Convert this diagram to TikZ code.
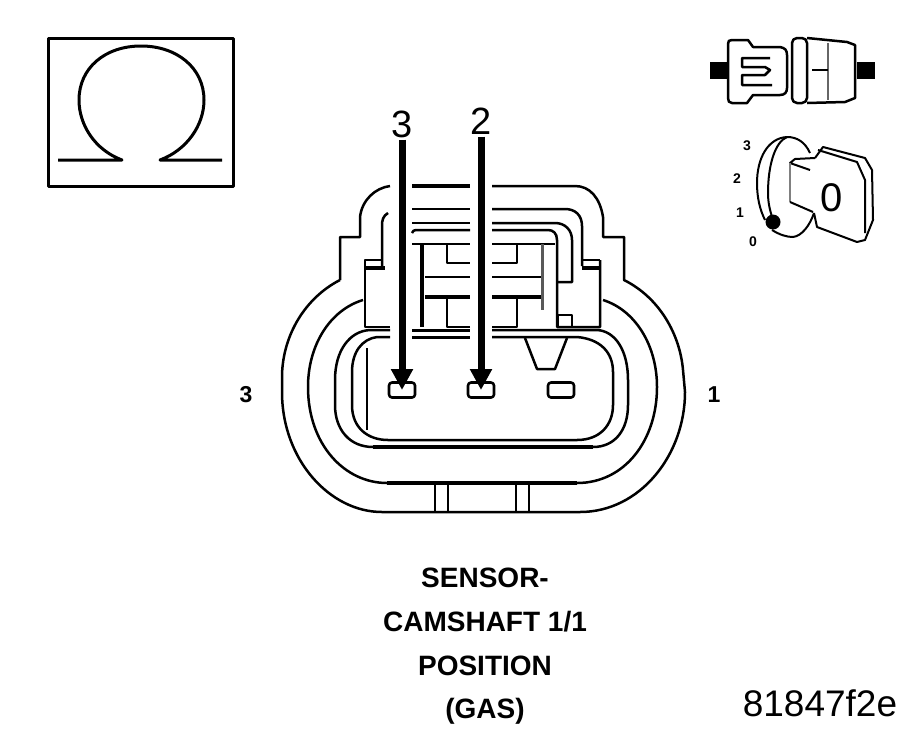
\documentclass[tikz,border=0pt]{standalone}
\usepackage{fontspec}
\setmainfont{Liberation Sans}
\usetikzlibrary{arrows.meta}

\tikzstyle{caption} = [font=\fontsize{28}{28}\selectfont\bfseries, inner sep=0pt]
\tikzstyle{sidelabel} = [font=\fontsize{23}{23}\selectfont\bfseries, inner sep=0pt]
\tikzstyle{pinlabel} = [font=\fontsize{38}{38}\selectfont, inner sep=1pt]
\tikzstyle{keylabel} = [font=\fontsize{14}{14}\selectfont\bfseries, inner sep=0pt]
\tikzstyle{pinbox} = [rectangle, draw, line width=2.6pt, rounded corners=3pt, minimum width=26pt, minimum height=15pt, inner sep=0pt]
\tikzstyle{probe} = [line width=7pt, -{Triangle[width=21pt,length=21pt]}]
\tikzstyle{shell} = [line width=2.5pt, line join=round]
\tikzstyle{thick rib} = [line width=3.5pt]
\tikzstyle{plug} = [fill=black]

\begin{document}
\begin{tikzpicture}[x=1pt, y=-1pt, shell]

\useasboundingbox (0,0) rectangle (917,734);

\node [draw, line width=3pt, minimum width=185pt, minimum height=148pt, inner sep=0pt] (ohm) at (140.5,112) {};

\draw [line width=3pt] (58,160) -- (122,160) .. controls (95,150) and (79,125) .. (79,100) .. controls (79,68) and (105,46) .. (141,46) .. controls (177,46) and (204,68) .. (204,100) .. controls (204,125) and (187,150) .. (160,160) -- (222,160);

\draw (340,280) .. controls (305,298) and (283,335) .. (282,375) -- (282,392) .. controls (282,460) and (330,512) .. (382,512) -- (580,512) .. controls (640,512) and (685,455) .. (685,392) -- (683,370) .. controls (680,335) and (660,298) .. (624,280) -- (624,237) -- (603,237) -- (603,217) .. controls (600,198) and (590,186) .. (575,186) -- (492,186);

\draw (340,280) -- (340,237) -- (360,237) -- (360,217) .. controls (362,200) and (375,188) .. (390,186);

\draw [thick rib] (412,186) -- (470,186);

\draw (363,300) .. controls (330,310) and (308,345) .. (308,387) .. controls (308,445) and (345,483) .. (387,483);

\draw [thick rib] (387,483) -- (577,483);

\draw (577,483) .. controls (625,483) and (657,440) .. (657,387) .. controls (657,345) and (635,310) .. (603,300);

\draw (390,330) -- (370,330) .. controls (350,331) and (335,350) .. (335,380) -- (335,405) .. controls (335,430) and (350,447) .. (373,447);

\draw [thick rib] (373,447) -- (593,447);

\draw (593,447) .. controls (615,447) and (628,430) .. (628,405) -- (628,380) .. controls (628,350) and (615,331) .. (597,330) -- (492,330);

\draw (390,337) -- (377,337) .. controls (362,339) and (352,352) .. (352,372) -- (352,405) .. controls (352,428) and (368,440) .. (388,440) -- (577,440) .. controls (600,440) and (613,425) .. (613,405) -- (613,372) .. controls (613,352) and (600,339) .. (577,337) -- (492,337);

\draw [line width=3pt] (412,330) -- (470,330);

\draw [line width=3pt] (412,337) -- (470,337);

\draw (367,348) -- (367,430);

\draw (390,327) -- (365,327) -- (365,260) -- (382,260);

\draw (600,260) -- (600,327) -- (557,327) -- (557,240) .. controls (557,233) and (553,230) .. (548,230) -- (492,230);

\draw (388,213) .. controls (383,216) and (382,220) .. (382,226) -- (382,266);

\draw [thick rib] (365,268) -- (385,268);

\draw (492,209) -- (565,209) .. controls (575,209) and (582,215) .. (582,226) -- (582,266);

\draw (582,260) -- (600,260);

\draw [thick rib] (582,268) -- (600,268);

\draw (412,209) -- (470,209);

\draw (412,223) -- (470,223);

\draw (492,223) -- (555,223) .. controls (565,223) and (572,230) .. (572,240) -- (572,282) -- (557,282);

\draw (412,233) .. controls (412,231) and (414,230) .. (418,230) -- (470,230);

\draw (412,244) -- (470,244);

\draw (492,244) -- (555,244);

\draw [thick rib] (422,244) -- (422,327);

\draw (447,244) -- (447,263) -- (470,263);

\draw (517,244) -- (517,263) -- (492,263);

\draw (425,277) -- (470,277);

\draw (492,277) -- (542,277);

\draw [thick rib] (425,297) -- (470,297);

\draw [thick rib] (492,297) -- (542,297);

\draw [line width=3pt, black!65] (542,244) -- (542,310);

\draw (470,327) -- (447,327) -- (447,297);

\draw (492,327) -- (517,327) -- (517,297);

\draw (558,315) rectangle (572,327);

\draw (525,338) -- (537,369) -- (555,369) -- (567,338);

\draw (435,483) -- (435,511);

\draw (448,483) -- (448,511);

\draw (516,483) -- (516,511);

\draw (529,483) -- (529,511);

\node [pinbox] (pin3) at (402,390) {};

\node [pinbox] (pin2) at (481,390) {};

\node [pinbox] (pin1) at (561,390) {};

\node [pinlabel] (lab3) at (402,124) {3};

\node [pinlabel] (lab2) at (481,121) {2};

\draw [probe] (lab3) -- (pin3.center);

\draw [probe] (lab2) -- (pin2.center);

\node [sidelabel] (side3) at (246,395) {3};

\node [sidelabel] (side1) at (714,395) {1};

\node [caption] (cap1) at (485,578) {SENSOR-};

\node [caption, below of=cap1, node distance=44pt] (cap2) {CAMSHAFT 1/1};

\node [caption, below of=cap2, node distance=44pt] (cap3) {POSITION};

\node [caption, below of=cap3, node distance=45pt] (cap4) {(GAS)};

\node [inner sep=0pt, font=\fontsize{37}{37}\selectfont] (code) at (820,703) {81847f2e};

\fill [plug] (710,62) rectangle (728,79);

\fill [plug] (857,62) rectangle (875,79);

\draw (728,44) .. controls (728,41) and (729,40) .. (732,40) -- (748,40) -- (753,47) -- (780,47) .. controls (785,48) and (787,50) .. (787,55) -- (787,88) .. controls (787,92) and (785,95) .. (780,95) -- (753,95) -- (747,103) -- (732,103) .. controls (729,103) and (728,101) .. (728,98) -- cycle;

\draw (770,58) -- (742,58) -- (742,67) -- (765,67) -- (770,70) -- (765,75) -- (742,75) -- (742,85) -- (772,85);

\draw [rounded corners=5pt] (792,38) rectangle (807,103);

\draw (807,38) -- (847,42) -- (855,45) -- (855,98) -- (845,102) -- (807,103);

\draw [black!60] (828,43) -- (828,100);

\draw (812,70) -- (828,70);

\node [keylabel] (key3) at (747,146) {3};

\node [keylabel] (key2) at (737,179) {2};

\node [keylabel] (key1) at (740,213) {1};

\node [keylabel] (key0) at (753,242) {0};

\draw [line width=2pt] (810,153) .. controls (805,142) and (797,137) .. (787,137) .. controls (768,138) and (757,158) .. (757,183) .. controls (757,198) and (760,210) .. (765,220);

\draw [line width=2pt] (787,137) .. controls (775,142) and (768,165) .. (768,193) .. controls (768,203) and (770,210) .. (772,217);

\draw [line width=2pt] (772,230) .. controls (780,235) and (787,237) .. (793,237) .. controls (802,236) and (810,225) .. (814,213);

\draw [line width=2pt] (810,170) -- (790,163) -- (795,159) -- (815,158);

\draw [line width=2.5pt, black!50] (790,163) -- (790,202);

\draw [line width=2pt] (790,202) -- (813,212);

\draw [line width=2pt] (815,158) -- (823,147) -- (865,158) -- (872,170) -- (873,220) -- (865,240) -- (857,242) -- (817,227) -- (814,213);

\draw [line width=2pt] (818,150) -- (857,162) -- (865,180) -- (865,233);

\node [inner sep=0pt, font=\fontsize{40}{40}\selectfont] (keyzero) at (832,198) {0};

\fill (773,222) circle (7.5pt);

\end{tikzpicture}
\end{document}
